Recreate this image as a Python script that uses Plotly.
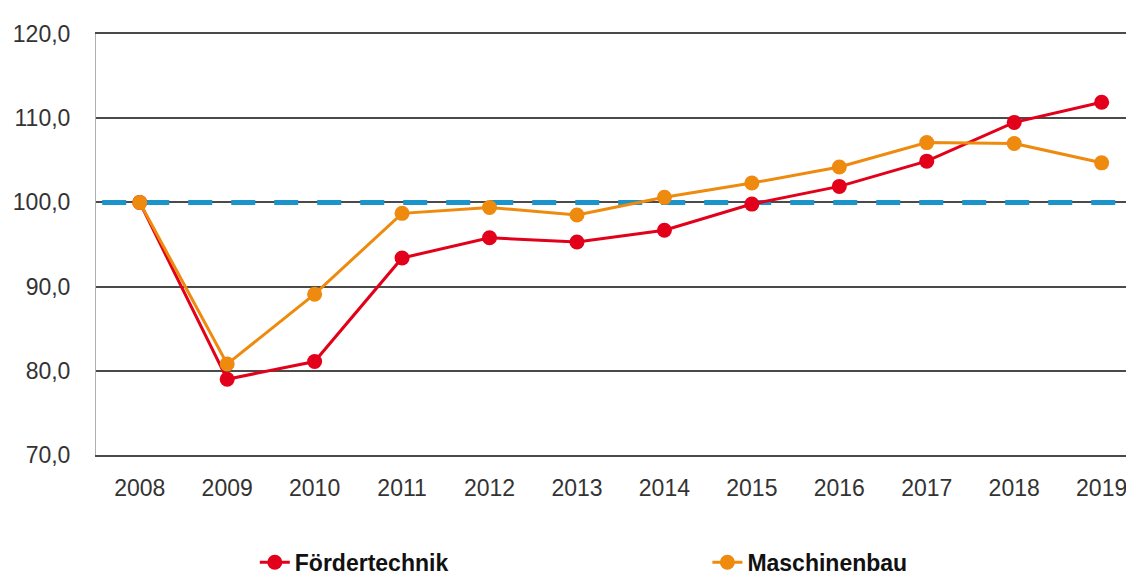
import plotly.graph_objects as go

years = ["2008", "2009", "2010", "2011", "2012", "2013",
         "2014", "2015", "2016", "2017", "2018", "2019"]
foerdertechnik = [100.0, 79.0, 81.1, 93.4, 95.8, 95.3, 96.7, 99.8, 101.9, 104.9, 109.5, 111.9]
maschinenbau = [100.0, 80.8, 89.1, 98.7, 99.4, 98.5, 100.6, 102.3, 104.2, 107.1, 107.0, 104.7]
baseline = 100.0
y_ticks = [70, 80, 90, 100, 110, 120]

fig = go.Figure()

# dashed 100-line on a hidden 0..1 axis so it spans the full width, under the series
fig.add_trace(go.Scatter(
    x=[0.006, 1], y=[baseline, baseline], xaxis="x", yaxis="y",
    mode="lines", line=dict(color="#1A94CA", width=5, dash="24px,19px"),
    showlegend=False, hoverinfo="skip",
))

fig.add_trace(go.Scatter(
    x=years, y=foerdertechnik, name="Fördertechnik", xaxis="x2", yaxis="y",
    mode="lines+markers",
    line=dict(color="#E2001A", width=3),
    marker=dict(color="#E2001A", size=15),
    legend="legend",
))
fig.add_trace(go.Scatter(
    x=years, y=maschinenbau, name="Maschinenbau", xaxis="x2", yaxis="y",
    mode="lines+markers",
    line=dict(color="#EE8A0E", width=3),
    marker=dict(color="#EE8A0E", size=15),
    legend="legend2",
))

# page body has an 8px margin, so the figure is a bit smaller than the window
leg_font = dict(size=23, color="#111111", weight="bold")
fig.update_layout(
    width=1126, height=568,
    margin=dict(l=88, r=0, t=26, b=121, autoexpand=False),
    paper_bgcolor="white", plot_bgcolor="white",
    separators=",.",
    font=dict(family="Liberation Sans, Arial, sans-serif", color="#333333", size=23),
    showlegend=True,
    legend=dict(orientation="h", x=0.153, xanchor="left", y=-0.255, yanchor="middle",
                font=leg_font, bgcolor="rgba(0,0,0,0)"),
    legend2=dict(orientation="h", x=0.589, xanchor="left", y=-0.255, yanchor="middle",
                 font=leg_font, bgcolor="rgba(0,0,0,0)"),
    xaxis=dict(
        range=[0, 1], automargin=False, showgrid=False, zeroline=False,
        showticklabels=False, ticks="",
        showline=True, mirror=True, linecolor="#4a4a4a", linewidth=2,
    ),
    xaxis2=dict(
        type="category", range=[-0.5, 11.37], automargin=False,
        overlaying="x", side="bottom",
        showgrid=False, zeroline=False, showline=False,
        ticks="", ticklabelstandoff=17,
        tickfont=dict(size=23, color="#333333"),
    ),
    yaxis=dict(
        range=[70, 120], tickvals=y_ticks, tickformat=".1f", automargin=False,
        showgrid=True, gridcolor="#4a4a4a", gridwidth=2,
        zeroline=False, showline=True, linecolor="#b0b0b0", linewidth=1,
        ticks="", ticklabelstandoff=20,
        tickfont=dict(size=23, color="#333333"),
    ),
)

fig.write_html("out.html")
